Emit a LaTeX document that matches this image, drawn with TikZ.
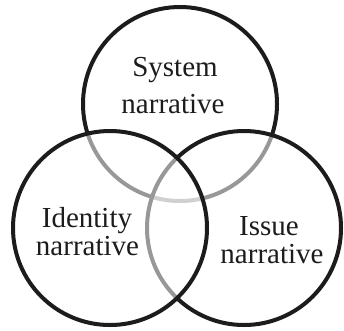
\documentclass[tikz,border=0pt]{standalone}
\usepackage{fontspec}
\setmainfont{Liberation Serif}
\begin{document}
\begin{tikzpicture}[x=1pt,y=-1pt,
  ring/.style={draw=ink,line width=4pt},
  veil/.style={fill=white,fill opacity=0.55},
  label/.style={anchor=base,inner sep=0pt,text=ink,font=\fontsize{29}{29}\selectfont}]
\definecolor{ink}{HTML}{1C1C1C}
\useasboundingbox (0,0) rectangle (344,330);
% top circle first; each later circle lays a white veil over the lines beneath it
\draw[ring] (180,104) circle[radius=97];
\fill[veil] (244,228) circle[radius=97];
\draw[ring] (244,228) circle[radius=97];
\fill[veil] (110,228) circle[radius=97];
\draw[ring] (110,228) circle[radius=97];
% labels
\node[label] (sysA) at (175,76) {System};
\node[label] (sysB) at (173,113) {narrative};
\node[label] (idA) at (87,227) {Identity};
\node[label] (idB) at (87.5,255) {narrative};
\node[label] (isA) at (269,235) {Issue};
\node[label] (isB) at (272,263) {narrative};
\end{tikzpicture}
\end{document}
